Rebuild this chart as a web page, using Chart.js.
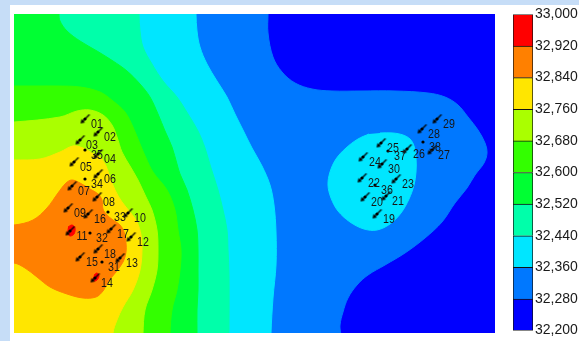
<!DOCTYPE html>
<html>
<head>
<meta charset="utf-8">
<script src="https://cdn.jsdelivr.net/npm/chart.js@4.4.0/dist/chart.umd.min.js"></script>
<style>
body { margin: 0; background: #c6ddf7; width: 579px; height: 341px; overflow: hidden; position: relative; }
#panel { position: absolute; left: 10px; top: 5px; width: 569px; height: 336px; background: #fff; }
#map { position: absolute; left: 14px; top: 14px; }
#bar { position: absolute; left: 513px; top: 4px; }
</style>
</head>
<body>
<div id="panel"></div>
<canvas id="map" width="481" height="319"></canvas>
<canvas id="bar" width="66" height="337"></canvas>
<script>
// contour levels and colours (low -> high)
const levels = [32.20, 32.28, 32.36, 32.44, 32.52, 32.60, 32.68, 32.76, 32.84, 32.92, 33.00];
const bandColors = ['#0000ff', '#0078ff', '#00e6ff', '#00ffaa', '#00ff33', '#33ff00', '#aaff00', '#ffe600', '#ff8000', '#ff0000'];

// map extent
const xExtent = [0, 481];
const yExtent = [0, 319];

// areas above each level
const area20 = [[0, 0], [481, 0], [481, 319], [0, 319]];
const area28 = [[254,340],[254,319],[254,300],[259,276],[268,261],[281,250],[298,244],[318,242],[348,242],[381,242],[414,240],[431,236],[444,228],[454,216],[464,203],[471,190],[473,180],[470,170],[461,158],[453,145],[441,130],[428,111],[411,95],[391,80],[371,68],[354,58],[343,48],[334,35],[329,21],[326,8],[325,-20],[-20,-20],[-20,340]];
const area36 = [[182,340],[182,319],[183,302],[186,286],[193,269],[203,252],[213,236],[221,219],[229,203],[238,185],[248,167],[256,148],[260,128],[262,101],[262,68],[259,35],[257,0],[257,-20],[-20,-20],[-20,340]];
const area36b = [[366,200],[379,200],[389,198],[396,194],[400,187],[402,175],[402,161],[400,148],[395,134],[387,120],[376,109],[363,103],[350,104],[336,111],[324,122],[317,135],[314,148],[316,161],[322,174],[332,185],[344,194],[355,199]];
const area44 = [[125,340],[125,319],[126,302],[129,286],[138,269],[149,252],[163,236],[174,219],[184,202],[191,185],[197,165],[204,143],[209,123],[213,103],[214,83],[215,58],[215,0],[215,-20],[-20,-20],[-20,340]];
const area52 = [[45,340],[45,319],[46,312],[53,302],[66,292],[83,282],[99,272],[113,262],[126,249],[136,236],[144,219],[151,202],[158,186],[163,169],[166,159],[173,143],[179,123],[183,103],[184,83],[184,63],[184,43],[183,23],[183,0],[183,-20],[-20,-20],[-20,340]];
const area60 = [[-20,247],[26,247],[43,247],[66,246],[86,241],[99,232],[111,221],[119,206],[126,189],[132,175],[139,161],[153,143],[161,123],[164,103],[167,83],[166,63],[163,43],[158,23],[156,0],[156,-20],[-20,-20]];
const area68 = [[-20,211],[0,211],[46,216],[63,222],[76,223],[89,218],[98,208],[103,196],[108,181],[116,167],[124,153],[132,136],[138,123],[143,103],[144,83],[143,63],[138,43],[131,23],[129,0],[129,-20],[-20,-20]];
const area76 = [[-20,173],[0,173],[26,174],[46,181],[59,187],[69,185],[78,180],[86,176],[92,167],[96,156],[101,143],[108,131],[116,121],[123,111],[127,98],[128,83],[126,63],[119,43],[109,26],[103,13],[99,0],[99,-20],[-20,-20]];
const area84 = [[-24,108],[0,108],[19,113],[33,125],[44,140],[52,150],[58,153],[66,150],[76,144],[84,139],[88,133],[89,124],[93,118],[99,113],[106,108],[110,101],[112,90],[112,81],[109,71],[102,61],[94,51],[89,42],[82,36],[69,35],[53,39],[36,46],[23,56],[11,65],[0,70],[-24,70]];
const area92a = [[54,106],[58,108],[61,105],[60,99],[56,97],[53,100]];
const area92b = [[80,58],[83,60],[85,57],[83,53],[80,52],[79,55]];

// wells
const wellNames = ['01','02','03','35','04','05','06','34','07','08','09','16','33','10','11','32','17','12','18','15','31','13','14',
                   '29','28','38','27','26','37','25','24','30','22','23','36','20','21','19'];
const wellX = [71,84,66,71,84,60,84,71,58,83,54,74,94,114,56,76,97,117,84,66,88,106,81,
               423,408,409,418,393,374,367,349,368,348,382,361,351,372,363];
const wellY = [214,201,193,183,179,171,159,154,147,136,125,119,121,120,102,100,104,96,84,76,71,75,55,
               214,204,191,183,184,182,190,176,169,155,154,148,136,137,119];
const wellKind = ['a','a','a','d','a','a','a','d','a','a','a','a','d','a','a','d','a','a','a','a','d','a','a',
                  'a','a','d','a','a','d','a','a','a','a','a','d','a','a','a'];

const regions = [
  [0, area20], [1, area28], [2, area36], [2, area36b], [3, area44], [4, area52],
  [5, area60], [6, area68], [7, area76], [8, area84], [9, area92a], [9, area92b]
];

const polyDatasets = regions.map(function (r) {
  return {
    type: 'line',
    data: r[1].map(p => ({x: p[0], y: p[1]})),
    fill: 'shape',
    backgroundColor: bandColors[r[0]],
    borderColor: bandColors[r[0]],
    borderWidth: 1,
    tension: 0.35,
    pointRadius: 0
  };
}).reverse();

const arrowData = [], dotData = [];
wellNames.forEach(function (n, i) {
  if (wellKind[i] == 'a') arrowData.push({x: wellX[i], y: wellY[i]});
  dotData.push({x: wellX[i], y: wellY[i]});
});

// small arrow symbol used as point style
const arrow = document.createElement('canvas');
arrow.width = 11; arrow.height = 11;
(function () {
  const c = arrow.getContext('2d');
  c.strokeStyle = '#000'; c.fillStyle = '#000'; c.lineWidth = 1.2;
  c.beginPath(); c.moveTo(10, 1); c.lineTo(3, 8); c.stroke();
  c.beginPath(); c.moveTo(1, 10); c.lineTo(2, 5.5); c.lineTo(5.5, 9); c.closePath(); c.fill();
})();

const wellLabels = {
  id: 'wellLabels',
  afterDatasetsDraw(chart) {
    const ctx = chart.ctx, xs = chart.scales.x, ys = chart.scales.y;
    ctx.save();
    ctx.fillStyle = '#161616';
    ctx.font = '13px "Liberation Sans", Arial, sans-serif';
    ctx.textAlign = 'center';
    ctx.textBaseline = 'middle';
    wellNames.forEach(function (n, i) {
      const px = xs.getPixelForValue(wellX[i]) + 12;
      const py = ys.getPixelForValue(wellY[i]) + 5;
      ctx.save();
      ctx.translate(px, py);
      ctx.scale(0.82, 1);
      ctx.fillText(n, 0, 0);
      ctx.restore();
    });
    ctx.restore();
  }
};

new Chart(document.getElementById('map'), {
  type: 'line',
  data: {
    datasets: [
      {type: 'scatter', data: dotData, pointStyle: 'circle', pointRadius: 1.6, backgroundColor: '#000', borderColor: '#000', borderWidth: 0},
      {type: 'scatter', data: arrowData, pointStyle: arrow, pointRadius: 5}
    ].concat(polyDatasets)
  },
  options: {
    responsive: false,
    animation: false,
    devicePixelRatio: 1,
    layout: {padding: 0, autoPadding: false},
    plugins: {legend: {display: false}, tooltip: {enabled: false}},
    scales: {
      x: {type: 'linear', min: xExtent[0], max: xExtent[1], display: false},
      y: {type: 'linear', min: yExtent[0], max: yExtent[1], display: false}
    }
  },
  plugins: [wellLabels]
});

// colour scale
new Chart(document.getElementById('bar'), {
  type: 'bar',
  data: {
    labels: [''],
    datasets: bandColors.map(function (c, i) {
      return {
        data: [[levels[i], levels[i + 1]]],
        backgroundColor: c,
        borderColor: '#111',
        borderWidth: {top: 1, left: 1, right: 1, bottom: i == 0 ? 1 : 0},
        borderSkipped: false,
        barPercentage: 1,
        categoryPercentage: 1,
        grouped: false
      };
    })
  },
  options: {
    responsive: false,
    animation: false,
    devicePixelRatio: 1,
    layout: {padding: {top: 10, bottom: 8, left: 0, right: 0}},
    plugins: {legend: {display: false}, tooltip: {enabled: false}},
    scales: {
      x: {display: false},
      y: {
        position: 'right',
        min: levels[0],
        max: levels[levels.length - 1],
        grid: {display: false, drawTicks: false},
        border: {display: false},
        afterBuildTicks: s => { s.ticks = levels.map(v => ({value: v})); },
        afterFit: s => { s.width = 46; },
        ticks: {
          padding: 2,
          autoSkip: false,
          color: '#1a1a1a',
          font: {family: '"Liberation Sans", Arial, sans-serif', size: 14},
          callback: v => v.toFixed(3).replace('.', ',')
        }
      }
    }
  }
});
</script>
</body>
</html>
